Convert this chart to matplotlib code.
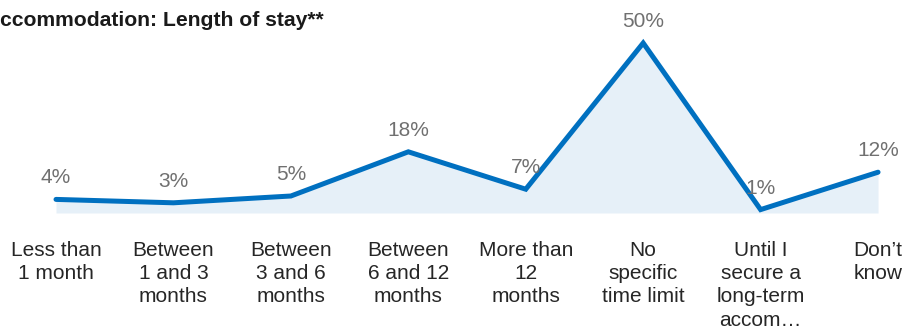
import matplotlib.pyplot as plt
import matplotlib.transforms as mtransforms

plt.rcParams['font.family'] = ['Liberation Sans', 'DejaVu Sans']

# dados do grafico
categorias = ['Less than\n1 month', 'Between\n1 and 3\nmonths', 'Between\n3 and 6\nmonths',
              'Between\n6 and 12\nmonths', 'More than\n12\nmonths', 'No\nspecific\ntime limit',
              'Until I\nsecure a\nlong-term\naccom\u2026', 'Don\u2019t\nknow']
valores = [4, 3, 5, 18, 7, 50, 1, 12]
rotulos = ['4%', '3%', '5%', '18%', '7%', '50%', '1%', '12%']

azul = '#0070C0'
x = list(range(len(valores)))

fig = plt.figure(figsize=(9.06, 3.32), dpi=100)
ax = fig.add_axes([0, 0, 1, 1])
ax.set_xlim(-0.477, 7.238)
ax.set_ylim(-35, 62.65)
ax.axis('off')

ax.fill_between(x, valores, 0, color='#E6F0F8', linewidth=0)
ax.plot(x, valores, color=azul, linewidth=3.6, solid_joinstyle='miter', solid_capstyle='round')

for i in range(len(valores)):
    ax.annotate(rotulos[i], (x[i], valores[i]), xytext=(0, 16), textcoords='offset pixels',
                ha='center', va='baseline', fontsize=15, color='#707070')

trans = mtransforms.blended_transform_factory(ax.transData, ax.transAxes)
for i in range(len(categorias)):
    ax.text(x[i], 1 - 241 / 332, categorias[i], transform=trans, ha='center', va='top',
            fontsize=15, color='#262626', linespacing=1.28)

fig.text(0, 1 - 26 / 332, 'ccommodation: Length of stay**', ha='left', va='baseline',
         fontsize=15.2, fontweight='bold', color='#1a1a1a')

fig.savefig('out.png', dpi=100)
